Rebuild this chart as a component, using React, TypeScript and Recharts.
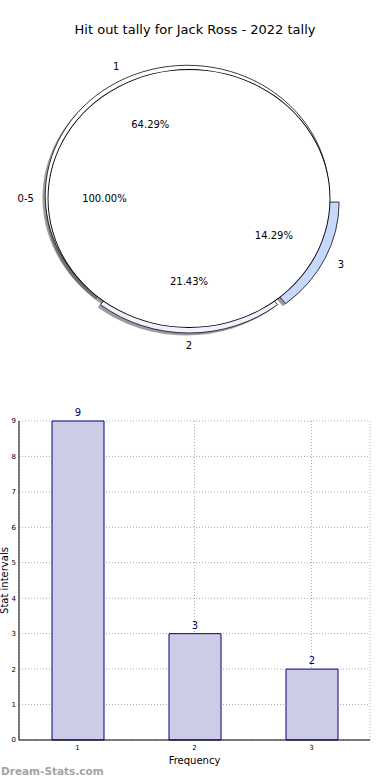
import { Bar, BarChart, CartesianGrid, Cell, LabelList, Pie, PieChart, XAxis, YAxis } from "recharts";

const outerNames = ["1", "2", "3"];
const outerValues = [9, 3, 2];
const innerNames = ["0-5"];
const innerValues = [14];

const barCategories = ["1", "2", "3"];
const barValues = [9, 3, 2];
const yTicks = [0, 1, 2, 3, 4, 5, 6, 7, 8, 9];

const outerColors = ["#ffffff", "#eef3ff", "#c6d9fc"];
const explode = [4, 5, 9];

const FONT = "'DejaVu Sans', sans-serif";
const RADIAN = Math.PI / 180;
const PIE_CX = 189;
const PIE_CY = 158.5;
const R_I = 141;
const R_O = 142;
const SY = 0.915;
const SHADOW = 2.8;

const outerData = outerNames.map((name, i) => ({ name, value: outerValues[i] }));
const innerData = innerNames.map((name, i) => ({ name, value: innerValues[i] }));
const barData = barCategories.map((name, i) => ({ name, value: barValues[i] }));

const total = outerValues.reduce((a, b) => a + b, 0);
let acc = 0;
const outerMid = outerValues.map((v) => {
  const m = ((acc + v / 2) / total) * 360;
  acc += v;
  return m;
});

// text is counter-scaled so it is not squashed with the ellipse
const PieText = ({ x, y, anchor, children }: any) => (
  <g transform={`translate(${x},${y}) scale(1,${1 / SY})`}>
    <text x={0} y={0} textAnchor={anchor} dominantBaseline="central" fontSize={10} fontFamily={FONT} fill="#000">
      {children}
    </text>
  </g>
);

const renderPieLabel = (withExplode: boolean) => (props: any) => {
  const { midAngle, outerRadius, percent, name, index } = props;
  const cx = props.cx ?? PIE_CX;
  const cy = props.cy ?? PIE_CY;
  const cos = Math.cos(-midAngle * RADIAN);
  const sin = Math.sin(-midAngle * RADIAN);
  const e = withExplode ? explode[index] : 0;
  const ox = cx + e * cos;
  const oy = cy + e * sin;
  const lx = ox + outerRadius * 1.1 * cos;
  const ly = oy + outerRadius * 1.1 * sin;
  const px = ox + outerRadius * 0.6 * cos;
  const py = oy + outerRadius * 0.6 * sin;
  const anchor = cos > 0.01 ? "start" : cos < -0.01 ? "end" : "middle";
  return (
    <g key={`lbl-${index}`}>
      <PieText x={lx} y={ly} anchor={anchor}>{name}</PieText>
      <PieText x={px} y={py} anchor="middle">{`${(percent * 100).toFixed(2)}%`}</PieText>
    </g>
  );
};

const YLabel = (props: any) => {
  const vb = props.viewBox || { y: 0, height: 0 };
  const cy = vb.y + vb.height / 2;
  return (
    <text transform={`translate(8,${cy}) rotate(-90)`} textAnchor="middle" fontSize={10} fontFamily={FONT} fill="#000">
      Stat intervals
    </text>
  );
};

export default function App() {
  return (
    <div style={{ position: "absolute", left: 0, top: 0, width: 390, height: 780, background: "#fff", fontFamily: FONT }}>
      <div style={{ position: "absolute", top: 21, left: 0, width: 390, textAlign: "center", fontSize: 13, lineHeight: "17px" }}>
        Hit out tally for Jack Ross - 2022 tally
      </div>

      <div style={{ position: "absolute", top: 40, left: 0, width: 390, height: 350, transform: `scaleY(${SY})`, transformOrigin: `${PIE_CX}px ${PIE_CY}px` }}>
        <PieChart width={390} height={350} margin={{ top: 0, right: 0, bottom: 0, left: 0 }}>
          {/* shadows */}
          <Pie data={innerData} dataKey="value" nameKey="name" cx={PIE_CX - SHADOW} cy={PIE_CY + SHADOW} outerRadius={R_I}
            startAngle={0} endAngle={360} fill="#4d4d4d" fillOpacity={0.55} stroke="none" isAnimationActive={false} labelLine={false} />
          {outerMid.map((m, i) => (
            <Pie key={`sh-${i}`} data={outerData} dataKey="value" nameKey="name"
              cx={PIE_CX - SHADOW + explode[i] * Math.cos(m * RADIAN)} cy={PIE_CY + SHADOW - explode[i] * Math.sin(m * RADIAN)}
              outerRadius={R_O} startAngle={0} endAngle={360} isAnimationActive={false} labelLine={false}>
              {outerData.map((d, j) => (
                <Cell key={d.name} fill={j === i ? "#4d4d4d" : "none"} fillOpacity={0.55} stroke="none" />
              ))}
            </Pie>
          ))}
          {/* exploded outer slices */}
          {outerMid.map((m, i) => (
            <Pie key={`sl-${i}`} data={outerData} dataKey="value" nameKey="name"
              cx={PIE_CX + explode[i] * Math.cos(m * RADIAN)} cy={PIE_CY - explode[i] * Math.sin(m * RADIAN)}
              outerRadius={R_O} startAngle={0} endAngle={360} isAnimationActive={false} labelLine={false}>
              {outerData.map((d, j) => (
                <Cell key={d.name} fill={j === i ? outerColors[j] : "none"} stroke={j === i ? "#000" : "none"} strokeWidth={0.8} />
              ))}
            </Pie>
          ))}
          {/* inner pie */}
          <Pie data={innerData} dataKey="value" nameKey="name" cx={PIE_CX} cy={PIE_CY} outerRadius={R_I}
            startAngle={0} endAngle={360} fill="#fff" stroke="none" isAnimationActive={false}
            labelLine={false} label={renderPieLabel(false)} />
          <Pie data={innerData} dataKey="value" nameKey="name" cx={PIE_CX} cy={PIE_CY} innerRadius={R_I - 0.45} outerRadius={R_I + 0.45}
            startAngle={0} endAngle={360} fill="#000" stroke="none" isAnimationActive={false} labelLine={false} />
          {/* outer labels on top */}
          <Pie data={outerData} dataKey="value" nameKey="name" cx={PIE_CX} cy={PIE_CY} outerRadius={R_O}
            startAngle={0} endAngle={360} fill="none" stroke="none" isAnimationActive={false}
            labelLine={false} label={renderPieLabel(true)} />
        </PieChart>
      </div>

      <div style={{ position: "absolute", top: 400, left: 0 }}>
        <BarChart width={390} height={380} data={barData} margin={{ top: 21, right: 20, bottom: 0, left: 0 }}>
          <CartesianGrid stroke="#aaaaaa" strokeDasharray="1 2" />
          <XAxis dataKey="name" height={40} tick={{ fontSize: 7, fill: "#000", fontFamily: FONT }} tickSize={3} tickMargin={2}
            tickLine={false} axisLine={{ stroke: "#000" }}
            label={{ value: "Frequency", position: "center", fontSize: 10, fill: "#000", fontFamily: FONT }} />
          <XAxis xAxisId="top" orientation="top" dataKey="name" height={0} tick={false} tickLine={false} axisLine={{ stroke: "#000" }} />
          <YAxis width={19} domain={[0, 9]} ticks={yTicks} interval={0} tick={{ fontSize: 7, fill: "#000", fontFamily: FONT }}
            tickSize={2} tickMargin={1} tickLine={false} axisLine={{ stroke: "#000" }} label={<YLabel />} />
          <YAxis yAxisId="right" orientation="right" width={0} domain={[0, 9]} tick={false} tickLine={false} axisLine={{ stroke: "#000" }} />
          <Bar dataKey="value" fill="#ccccE6" stroke="#000080" strokeWidth={1} barSize={52} isAnimationActive={false}>
            <LabelList dataKey="value" position="top" fill="#000080" fontSize={10} fontFamily={FONT} />
          </Bar>
        </BarChart>
      </div>

      <div style={{ position: "absolute", left: 1, top: 764, fontSize: 10.5, fontWeight: "bold", color: "#a3a3a3", lineHeight: "14px" }}>
        Dream-Stats.com
      </div>
    </div>
  );
}
